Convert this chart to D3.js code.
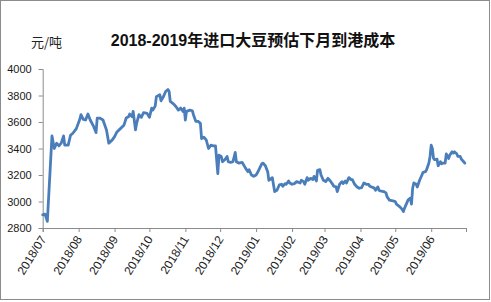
<!DOCTYPE html>
<html>
<head>
<meta charset="utf-8">
<script src="https://cdn.jsdelivr.net/npm/d3@7"></script>
<style>
  html, body { margin: 0; padding: 0; background: #fff; }
  svg { display: block; }
</style>
</head>
<body>
<svg id="chart" width="491" height="302"></svg>
<script>
const title = "2018-2019年进口大豆预估下月到港成本";
const unitLabel = "元/吨";
const yTicks = [2800, 3000, 3200, 3400, 3600, 3800, 4000];
const monthTicks = ["2018-07-01","2018-08-01","2018-09-01","2018-10-01","2018-11-01","2018-12-01",
  "2019-01-01","2019-02-01","2019-03-01","2019-04-01","2019-05-01","2019-06-01","2019-07-01"];
const dates = [
  "2018-07-01","2018-07-03","2018-07-05","2018-07-09","2018-07-11","2018-07-13","2018-07-15","2018-07-17","2018-07-19","2018-07-20",
  "2018-07-23","2018-07-25","2018-07-27","2018-07-30","2018-08-02","2018-08-03","2018-08-05","2018-08-07","2018-08-09","2018-08-11",
  "2018-08-14","2018-08-16","2018-08-17","2018-08-19","2018-08-22","2018-08-25","2018-08-27","2018-08-30","2018-09-01","2018-09-03",
  "2018-09-06","2018-09-09","2018-09-11","2018-09-13","2018-09-14","2018-09-16","2018-09-17","2018-09-19","2018-09-20","2018-09-22",
  "2018-09-24","2018-09-26","2018-09-29","2018-10-01","2018-10-03","2018-10-04","2018-10-06","2018-10-07","2018-10-10","2018-10-11",
  "2018-10-13","2018-10-15","2018-10-17","2018-10-18","2018-10-19","2018-10-22","2018-10-24","2018-10-26","2018-10-28","2018-10-30",
  "2018-10-31","2018-11-01","2018-11-02","2018-11-05","2018-11-07","2018-11-08","2018-11-10","2018-11-12","2018-11-14","2018-11-15",
  "2018-11-17","2018-11-19","2018-11-21","2018-11-23","2018-11-25","2018-11-27","2018-11-28","2018-11-29","2018-11-30","2018-12-02",
  "2018-12-03","2018-12-05","2018-12-07","2018-12-08","2018-12-10","2018-12-12","2018-12-14","2018-12-15","2018-12-17","2018-12-20",
  "2018-12-23","2018-12-25","2018-12-26","2018-12-28","2018-12-30","2019-01-01","2019-01-02","2019-01-04","2019-01-06","2019-01-07",
  "2019-01-09","2019-01-11","2019-01-12","2019-01-13","2019-01-15","2019-01-17","2019-01-19","2019-01-21","2019-01-23","2019-01-24",
  "2019-01-26","2019-01-27","2019-01-29","2019-01-30","2019-02-01","2019-02-03","2019-02-05","2019-02-08","2019-02-09","2019-02-11",
  "2019-02-12","2019-02-14","2019-02-15","2019-02-17","2019-02-19","2019-02-20","2019-02-22","2019-02-23","2019-02-25","2019-02-26",
  "2019-02-28","2019-03-02","2019-03-04","2019-03-06","2019-03-08","2019-03-09","2019-03-11","2019-03-12","2019-03-14","2019-03-16",
  "2019-03-17","2019-03-19","2019-03-20","2019-03-22","2019-03-24","2019-03-25","2019-03-27","2019-03-29","2019-03-31","2019-04-02",
  "2019-04-04","2019-04-06","2019-04-08","2019-04-09","2019-04-12","2019-04-13","2019-04-14","2019-04-16","2019-04-17","2019-04-18",
  "2019-04-21","2019-04-23","2019-04-24","2019-04-26","2019-04-29","2019-05-01","2019-05-02","2019-05-05","2019-05-07","2019-05-08",
  "2019-05-09","2019-05-11","2019-05-12","2019-05-14","2019-05-15","2019-05-16","2019-05-17","2019-05-19","2019-05-20","2019-05-22",
  "2019-05-24","2019-05-25","2019-05-27","2019-05-28","2019-05-30","2019-05-31","2019-06-01","2019-06-02","2019-06-03","2019-06-04",
  "2019-06-06","2019-06-07","2019-06-09","2019-06-10","2019-06-11","2019-06-13","2019-06-14","2019-06-16","2019-06-17","2019-06-19",
  "2019-06-20","2019-06-21","2019-06-23","2019-06-24","2019-06-26","2019-06-27","2019-06-29","2019-06-30"
];
const costs = [
  2900,2905,2850,3495,3400,3440,3420,3440,3495,3425,
  3425,3500,3515,3550,3620,3655,3620,3615,3660,3615,
  3565,3520,3630,3630,3615,3540,3440,3465,3490,3525,
  3550,3575,3630,3640,3660,3640,3680,3540,3590,3655,
  3635,3670,3665,3635,3705,3690,3720,3790,3805,3760,
  3790,3830,3845,3830,3755,3735,3715,3690,3705,3680,
  3705,3615,3680,3690,3685,3655,3605,3605,3590,3475,
  3485,3465,3400,3425,3420,3420,3315,3210,3350,3340,
  3300,3315,3340,3300,3295,3300,3370,3300,3290,3295,
  3250,3225,3240,3200,3190,3200,3215,3250,3285,3290,
  3270,3225,3160,3165,3180,3075,3085,3125,3130,3115,
  3135,3130,3155,3140,3130,3135,3150,3140,3160,3150,
  3130,3180,3160,3175,3165,3190,3155,3235,3240,3200,
  3160,3150,3175,3155,3130,3115,3110,3075,3130,3150,
  3135,3155,3140,3180,3165,3165,3130,3110,3100,3105,
  3140,3130,3130,3115,3105,3100,3085,3110,3085,3080,
  3075,3065,3035,3010,3005,3000,2980,2960,2940,2925,
  2950,2990,3010,3025,2980,3100,3140,3130,3110,3160,
  3200,3220,3225,3240,3290,3340,3425,3400,3325,3315,
  3320,3270,3300,3285,3290,3290,3360,3325,3350,3375,
  3365,3375,3360,3340,3340,3320,3300,3290
];

(function () {
const parse = d3.timeParse("%Y-%m-%d");
const fmt = d3.timeFormat("%Y/%m");
const data = dates.map((d, i) => ({ date: parse(d), value: costs[i] }));
const tickDates = monthTicks.map(parse);

const svg = d3.select("#chart");
const W = 491, H = 302;
const mLeft = 42.7, mRight = 466, mTop = 69, mBottom = 228;

svg.append("rect").attr("x", 0).attr("y", 0).attr("width", W).attr("height", H).attr("fill", "#fff");
svg.append("rect").attr("x", 0.5).attr("y", 0.5).attr("width", 489).attr("height", 299)
  .attr("fill", "none").attr("stroke", "#8c8c8c").attr("stroke-width", 1);

const x = d3.scaleTime().domain([tickDates[0], tickDates[tickDates.length - 1]]).range([mLeft, mRight]);
const y = d3.scaleLinear().domain([2800, 4000]).range([mBottom, mTop]);

// Y axis
const yAxis = svg.append("g").attr("transform", `translate(${mLeft},0)`)
  .call(d3.axisLeft(y).tickValues(yTicks).tickSize(4).tickPadding(7).tickFormat(d3.format("d")));
yAxis.select(".domain").attr("stroke", "#8c8c8c");
yAxis.selectAll(".tick line").attr("stroke", "#8c8c8c");
yAxis.selectAll("text").attr("font-family", "'Liberation Sans', Arial, sans-serif")
  .attr("font-size", 11).attr("fill", "#1a1a1a");

// X axis
const xAxis = svg.append("g").attr("transform", `translate(0,${mBottom})`)
  .call(d3.axisBottom(x).tickValues(tickDates).tickSize(4).tickFormat(""));
xAxis.select(".domain").attr("stroke", "#8c8c8c");
xAxis.selectAll(".tick line").attr("stroke", "#8c8c8c");

svg.append("g").selectAll("text")
  .data(tickDates.slice(0, tickDates.length - 1))
  .join("text")
  .attr("transform", d => `translate(${x(d) + 4},${mBottom + 11}) rotate(-58)`)
  .attr("text-anchor", "end")
  .attr("font-family", "'Liberation Sans', Arial, sans-serif")
  .attr("font-size", 12)
  .attr("fill", "#1a1a1a")
  .text(d => fmt(d));

// Line
const line = d3.line().x(d => x(d.date)).y(d => y(d.value));
svg.append("path").datum(data)
  .attr("d", line)
  .attr("fill", "none")
  .attr("stroke", "#4a7ebb")
  .attr("stroke-width", 2.8)
  .attr("stroke-linejoin", "round")
  .attr("stroke-linecap", "round");

// Title
svg.append("text")
  .attr("x", 253).attr("y", 46)
  .attr("text-anchor", "middle")
  .attr("font-family", "'Liberation Sans', 'Noto Sans CJK SC', sans-serif")
  .attr("font-size", 16).attr("font-weight", "bold").attr("fill", "#111")
  .text(title);

// Unit label
svg.append("text")
  .attr("x", 31).attr("y", 47)
  .attr("font-family", "'Noto Sans CJK SC', sans-serif")
  .attr("font-size", 13).attr("fill", "#222")
  .text(unitLabel);
})();
</script>
</body>
</html>
